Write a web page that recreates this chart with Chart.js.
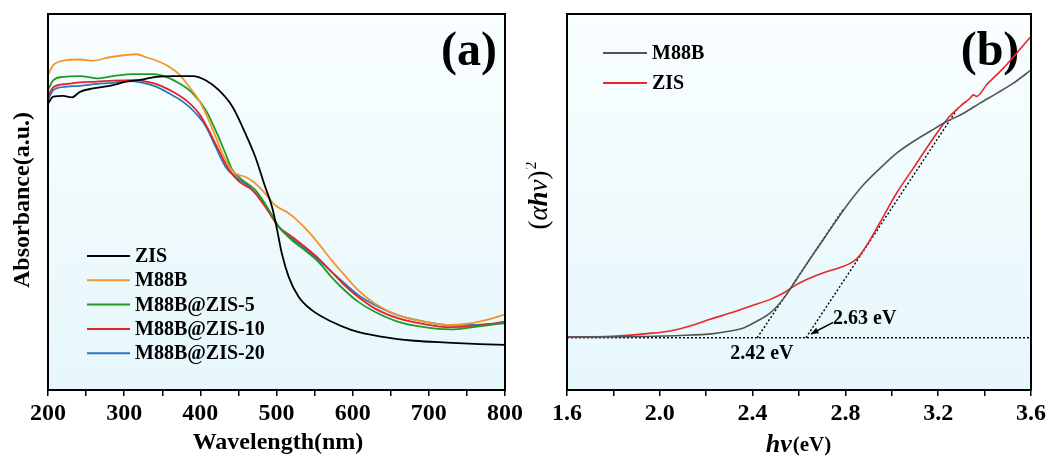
<!DOCTYPE html>
<html>
<head>
<meta charset="utf-8">
<script src="https://cdn.jsdelivr.net/npm/chart.js@4.4.0/dist/chart.umd.min.js"></script>
<style>
  body { margin: 0; background: #fff; width: 1058px; height: 461px; position: relative; overflow: hidden; }
  #ca { position: absolute; left: 0; top: 0; }
  #cb { position: absolute; left: 526px; top: 0; }
</style>
</head>
<body>
<canvas id="ca" width="526" height="461"></canvas>
<canvas id="cb" width="532" height="461"></canvas>
<script>
// ---- panel (a): UV-vis absorbance ----
const zisWl   = [200,207,220,231,242,259,281,303,325,342,364,390,407,424,442,459,472,485,494,500,507,516,529,546,572,598,637,681,724,767,800];
const zisAbs  = [76.2,78.0,78.2,77.8,79.3,80.2,80.9,82.0,82.6,83.3,83.5,83.5,82.4,79.8,75.4,68.3,62.1,54.1,48.8,43.4,36.3,30.1,24.8,21.3,18.2,16.0,14.2,13.1,12.6,12.2,12.0];

const m88bWl  = [200,207,220,242,259,281,303,316,329,346,359,372,385,398,409,420,429,438,446,459,472,485,498,516,529,542,555,572,589,607,629,659,694,728,754,781,800];
const m88bAbs = [83.8,86.4,87.6,87.9,87.6,88.5,89.1,89.3,88.5,87.3,86.0,84.0,80.7,77.1,72.7,67.4,62.9,59.4,57.6,56.7,55.0,52.3,49.2,47.0,44.8,42.1,39.0,34.6,30.6,26.6,23.0,19.9,18.2,17.3,17.7,18.9,20.1];

const zis5Wl  = [200,207,220,242,264,286,312,338,355,372,390,407,420,433,442,455,472,490,503,520,537,555,572,589,607,629,659,694,728,759,781,800];
const zis5Abs = [79.8,82.4,83.3,83.5,82.9,83.5,84.0,84.0,83.3,81.6,78.9,74.5,69.1,62.9,58.5,55.9,53.2,47.9,43.4,39.9,37.2,34.1,30.1,26.6,23.5,20.8,18.2,16.7,16.1,16.7,17.3,17.9];

const zis10Wl  = [200,207,225,242,264,286,312,329,346,364,381,398,411,424,438,451,468,485,503,520,537,555,572,589,607,629,659,694,728,759,781,800];
const zis10Abs = [78.0,80.5,81.4,81.8,82.0,82.3,82.4,82.0,81.1,79.3,77.1,73.6,69.1,63.8,58.5,55.4,53.2,48.8,43.4,40.8,38.1,35.0,31.5,27.9,24.8,21.7,19.1,17.5,16.7,17.0,17.6,18.2];

const zis20Wl  = [200,207,225,242,264,286,303,325,342,359,377,394,407,420,433,446,464,485,503,520,537,555,572,589,607,629,659,694,728,759,781,800];
const zis20Abs = [77.1,79.8,80.7,80.9,81.4,81.7,82.2,81.7,80.7,78.9,76.7,73.6,70.2,64.7,59.4,56.7,54.1,49.2,43.4,40.3,37.6,34.6,31.5,28.4,25.3,22.6,19.9,18.2,17.3,17.3,17.6,17.7];

const seriesA = ['ZIS', 'M88B', 'M88B@ZIS-5', 'M88B@ZIS-10', 'M88B@ZIS-20'];
const colorsA = ['#000000', '#f5962a', '#1f9a22', '#e4222a', '#2a78b8'];

// ---- panel (b): Tauc plot ----
const m88bEv  = [1.6,1.873,2.088,2.232,2.304,2.361,2.418,2.476,2.533,2.591,2.648,2.706,2.763,2.820,2.878,2.950,3.021,3.093,3.165,3.237,3.309,3.380,3.452,3.524,3.6];
const m88bTauc = [14.1,14.2,14.5,15.0,15.7,16.5,18.3,20.5,24.3,29.6,34.9,40.1,45.3,50.2,54.6,59.0,63.0,66.1,68.8,71.4,73.6,76.3,78.9,81.6,85.1];

const zisEv   = [1.6,1.801,1.945,2.045,2.131,2.217,2.304,2.390,2.476,2.533,2.591,2.648,2.706,2.792,2.835,2.864,2.907,2.964,3.021,3.093,3.165,3.237,3.294,3.337,3.352,3.366,3.409,3.481,3.538,3.6];
const zisTauc = [14.1,14.3,15.0,15.7,17.0,18.8,20.5,22.3,24.1,25.8,28.1,29.8,31.2,32.9,34.2,36.0,40.0,46.2,52.4,59.0,65.7,71.9,75.4,77.6,78.5,78.1,81.2,85.6,89.6,94.0];

const baseEv = [1.6, 3.6];
const baseY  = [13.9, 13.9];
const fitM88bEv = [2.42, 2.79];
const fitM88bY  = [13.9, 48.0];
const fitZisEv  = [2.63, 3.28];
const fitZisY   = [13.9, 74.5];

const gapLabels = ['2.42 eV', '2.63 eV'];
const gapTextPos = [[2.44, 9.5], [2.747, 18.8]];
const arrowFrom = [2.747, 18.0];
const arrowTo   = [2.652, 14.9];

const seriesB = ['M88B', 'ZIS'];
const colorsB = ['#555555', '#e8262b'];

const SERIF = '"Liberation Serif", "Times New Roman", serif';

function pts(xs, ys) { return xs.map((x, i) => ({ x: x, y: ys[i] })); }

function lineSet(label, xs, ys, color, width) {
  return {
    label: label, data: pts(xs, ys), borderColor: color, borderWidth: width,
    pointRadius: 0, fill: false, tension: 0.4, cubicInterpolationMode: 'monotone'
  };
}

function dotSet(xs, ys) {
  return {
    label: '', data: pts(xs, ys), borderColor: '#000', borderWidth: 1.4,
    borderDash: [2, 2], pointRadius: 0, fill: false, tension: 0
  };
}

// background, frame, legend and text drawn around the chart area
function panelPlugin(opts) {
  return {
    id: 'panel',
    beforeDatasetsDraw(chart) {
      const { ctx, chartArea: a } = chart;
      const g = ctx.createLinearGradient(0, a.top, 0, a.bottom);
      g.addColorStop(0, '#f9feff');
      g.addColorStop(1, '#e6f7fb');
      ctx.save();
      ctx.fillStyle = g;
      ctx.fillRect(a.left, a.top, a.width, a.height);
      ctx.fillStyle = '#000';
      ctx.font = 'bold 48px ' + SERIF;
      ctx.textAlign = 'center';
      ctx.textBaseline = 'middle';
      ctx.fillText(opts.letter, opts.letterX, opts.letterY);
      ctx.restore();
    },
    afterDatasetsDraw(chart) {
      const { ctx, chartArea: a } = chart;
      ctx.save();
      ctx.strokeStyle = '#000';
      ctx.lineWidth = 2;
      ctx.strokeRect(a.left, a.top, a.width, a.height);

      // legend
      ctx.font = 'bold 20px ' + SERIF;
      ctx.textAlign = 'left';
      ctx.textBaseline = 'middle';
      opts.legend.forEach((l, i) => {
        const ds = chart.data.datasets[i];
        const y = opts.legendY + i * opts.legendStep;
        ctx.strokeStyle = ds.borderColor;
        ctx.lineWidth = 2;
        ctx.beginPath();
        ctx.moveTo(opts.legendX0, y);
        ctx.lineTo(opts.legendX1, y);
        ctx.stroke();
        ctx.fillStyle = '#000';
        ctx.fillText(ds.label, opts.legendX1 + 5, y + 1);
      });
      if (opts.extra) opts.extra(chart, ctx);
      ctx.restore();
    }
  };
}

function xScale(min, max, step, labelFn) {
  return {
    type: 'linear', min: min, max: max,
    afterFit(s) { s.height = 71; },
    ticks: {
      stepSize: step, autoSkip: false, maxRotation: 0, padding: 3,
      color: '#000', font: { family: SERIF, size: 24, weight: 'bold' },
      callback: labelFn
    },
    grid: { drawOnChartArea: false, drawTicks: true, tickLength: 6, color: '#000', lineWidth: 1.5 },
    border: { display: false }
  };
}

const yHidden = { type: 'linear', min: 0, max: 100, display: false };

// ---- chart (a) ----
new Chart(document.getElementById('ca'), {
  type: 'line',
  data: {
    datasets: [
      lineSet(seriesA[0], zisWl, zisAbs, colorsA[0], 1.8),
      lineSet(seriesA[1], m88bWl, m88bAbs, colorsA[1], 1.8),
      lineSet(seriesA[2], zis5Wl, zis5Abs, colorsA[2], 1.8),
      lineSet(seriesA[3], zis10Wl, zis10Abs, colorsA[3], 1.8),
      lineSet(seriesA[4], zis20Wl, zis20Abs, colorsA[4], 1.8)
    ]
  },
  options: {
    responsive: false, animation: false, devicePixelRatio: 1,
    layout: { padding: { left: 48, right: 18, top: 14, bottom: 0 } },
    plugins: { legend: { display: false }, tooltip: { enabled: false } },
    scales: {
      x: xScale(200, 800, 50, v => (v % 100 === 0 ? String(v) : '')),
      y: yHidden
    }
  },
  plugins: [panelPlugin({
    letter: '(a)', letterX: 469, letterY: 53,
    legend: seriesA, legendX0: 87, legendX1: 130, legendY: 256, legendStep: 24.3,
    extra(chart, ctx) {
      ctx.fillStyle = '#000';
      ctx.font = 'bold 24px ' + SERIF;
      ctx.textAlign = 'center';
      ctx.textBaseline = 'middle';
      ctx.fillText('Wavelength(nm)', 278, 443);
      ctx.translate(23, 200);
      ctx.rotate(-Math.PI / 2);
      ctx.fillText('Absorbance(a.u.)', 0, 0);
    }
  })]
});

// ---- chart (b) ----
new Chart(document.getElementById('cb'), {
  type: 'line',
  data: {
    datasets: [
      lineSet(seriesB[0], m88bEv, m88bTauc, colorsB[0], 1.6),
      lineSet(seriesB[1], zisEv, zisTauc, colorsB[1], 1.6),
      dotSet(baseEv, baseY),
      dotSet(fitM88bEv, fitM88bY),
      dotSet(fitZisEv, fitZisY)
    ]
  },
  options: {
    responsive: false, animation: false, devicePixelRatio: 1,
    layout: { padding: { left: 41, right: 27, top: 14, bottom: 0 } },
    plugins: { legend: { display: false }, tooltip: { enabled: false } },
    scales: {
      x: xScale(1.6, 3.6, 0.2, v => (Math.round(v * 10) % 4 === 0 ? v.toFixed(1) : '')),
      y: yHidden
    }
  },
  plugins: [panelPlugin({
    letter: '(b)', letterX: 464, letterY: 53,
    legend: seriesB, legendX0: 77, legendX1: 121, legendY: 53, legendStep: 30,
    extra(chart, ctx) {
      const xs = chart.scales.x, ys = chart.scales.y;
      ctx.fillStyle = '#000';
      ctx.font = 'bold 20px ' + SERIF;
      ctx.textBaseline = 'middle';
      ctx.textAlign = 'center';
      ctx.fillText(gapLabels[0], xs.getPixelForValue(gapTextPos[0][0]), ys.getPixelForValue(gapTextPos[0][1]));
      ctx.textAlign = 'left';
      ctx.fillText(gapLabels[1], xs.getPixelForValue(gapTextPos[1][0]), ys.getPixelForValue(gapTextPos[1][1]));

      // arrow toward the 2.63 eV intercept
      const x0 = xs.getPixelForValue(arrowFrom[0]), y0 = ys.getPixelForValue(arrowFrom[1]);
      const x1 = xs.getPixelForValue(arrowTo[0]), y1 = ys.getPixelForValue(arrowTo[1]);
      const ang = Math.atan2(y1 - y0, x1 - x0);
      ctx.strokeStyle = '#000';
      ctx.lineWidth = 1.5;
      ctx.beginPath();
      ctx.moveTo(x0, y0);
      ctx.lineTo(x1, y1);
      ctx.stroke();
      ctx.beginPath();
      ctx.moveTo(x1, y1);
      ctx.lineTo(x1 - 8 * Math.cos(ang - 0.4), y1 - 8 * Math.sin(ang - 0.4));
      ctx.lineTo(x1 - 8 * Math.cos(ang + 0.4), y1 - 8 * Math.sin(ang + 0.4));
      ctx.closePath();
      ctx.fill();

      // x title: h nu (eV)
      const f1 = 'italic bold 26px ' + SERIF, f2 = 'bold 21px ' + SERIF;
      ctx.font = f1; const w1 = ctx.measureText('hν').width;
      ctx.font = f2; const w2 = ctx.measureText('(eV)').width;
      let x = 272 - (w1 + w2) / 2;
      ctx.textAlign = 'left';
      ctx.font = f1; ctx.fillText('hν', x, 445);
      ctx.font = f2; ctx.fillText('(eV)', x + w1 + 1, 446);

      // y title: (alpha h nu)^2
      ctx.translate(14, 196);
      ctx.rotate(-Math.PI / 2);
      const parts = [['(', 'normal 27px '], ['α', 'italic 27px '], ['h', 'italic bold 27px '], ['ν', 'italic 27px '], [')', 'normal 27px ']];
      let total = 0;
      parts.forEach(p => { ctx.font = p[1] + SERIF; total += ctx.measureText(p[0]).width; });
      ctx.font = 'normal 16px ' + SERIF;
      total += ctx.measureText('2').width;
      let px = -total / 2;
      parts.forEach(p => { ctx.font = p[1] + SERIF; ctx.fillText(p[0], px, 0); px += ctx.measureText(p[0]).width; });
      ctx.font = 'normal 16px ' + SERIF;
      ctx.fillText('2', px + 1, -8);
    }
  })]
});
</script>
</body>
</html>
